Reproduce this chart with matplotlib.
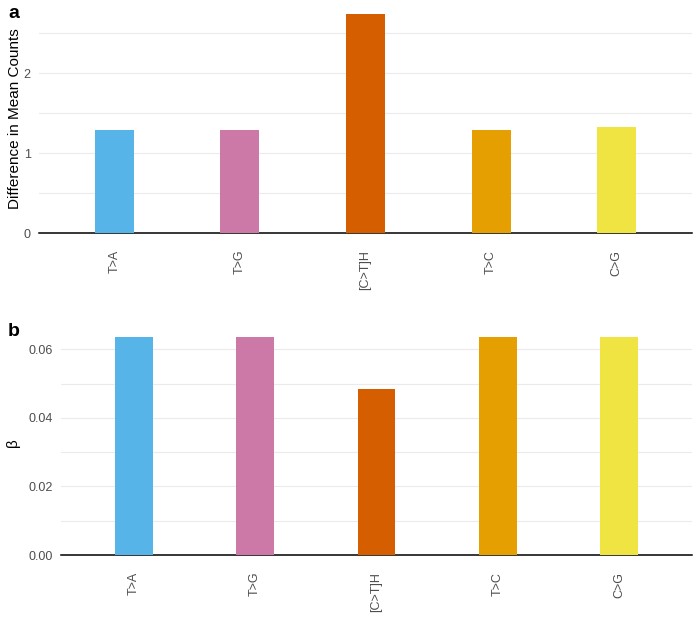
import matplotlib.pyplot as plt

categories = ['T>A', 'T>G', '[C>T]H', 'T>C', 'C>G']
mean_diff = [1.29, 1.29, 2.74, 1.29, 1.33]
beta = [0.0637, 0.0637, 0.0483, 0.0637, 0.0637]
colors = ['#56B4E9', '#CC79A7', '#D55E00', '#E69F00', '#F0E442']

plt.rcParams['font.family'] = ['Liberation Sans', 'DejaVu Sans']

fig = plt.figure(figsize=(7, 6.24), dpi=100)
ax1 = fig.add_axes([39 / 700, 1 - 233 / 624, 653 / 700, 228 / 624])
ax2 = fig.add_axes([61 / 700, 1 - 555 / 624, 631 / 700, 225 / 624])


def style(ax, values, ymax, major, minor, ylabel):
    x = range(len(categories))
    ax.bar(x, values, width=0.31, color=colors, zorder=3)
    ax.set_xlim(-0.6, len(categories) - 0.4)
    ax.set_ylim(0, ymax)
    ax.set_yticks(major)
    ax.set_yticks(minor, minor=True)
    ax.grid(True, which='both', axis='y', color='#ebebeb', linewidth=0.8, zorder=0)
    ax.set_xticks(list(x))
    ax.set_xticklabels(categories, rotation=90, color='#4d4d4d', fontsize=9)
    ax.tick_params(axis='y', colors='#4d4d4d', labelsize=9, length=0, pad=6)
    ax.tick_params(axis='x', length=0, pad=12)
    ax.tick_params(axis='y', which='minor', length=0)
    for s in ['top', 'right', 'left']:
        ax.spines[s].set_visible(False)
    ax.spines['bottom'].set_linewidth(1.1)
    ax.spines['bottom'].set_color('black')
    ax.set_ylabel(ylabel, fontsize=11)


style(ax1, mean_diff, 2.85, [0, 1, 2], [0.5, 1.5, 2.5], 'Difference in Mean Counts')
style(ax2, beta, 0.0656, [0, 0.02, 0.04, 0.06], [0.01, 0.03, 0.05], 'β')
ax2.set_yticklabels(['0.00', '0.02', '0.04', '0.06'])
ax1.yaxis.set_label_coords(-0.026, 0.5)
ax2.yaxis.set_label_coords(-0.065, 0.5)

fig.text(8 / 700, 1 - 14 / 624, 'a', fontsize=14, fontweight='bold', va='center')
fig.text(8 / 700, 1 - 332 / 624, 'b', fontsize=14, fontweight='bold', va='center')

plt.savefig('out.png', dpi=100)
